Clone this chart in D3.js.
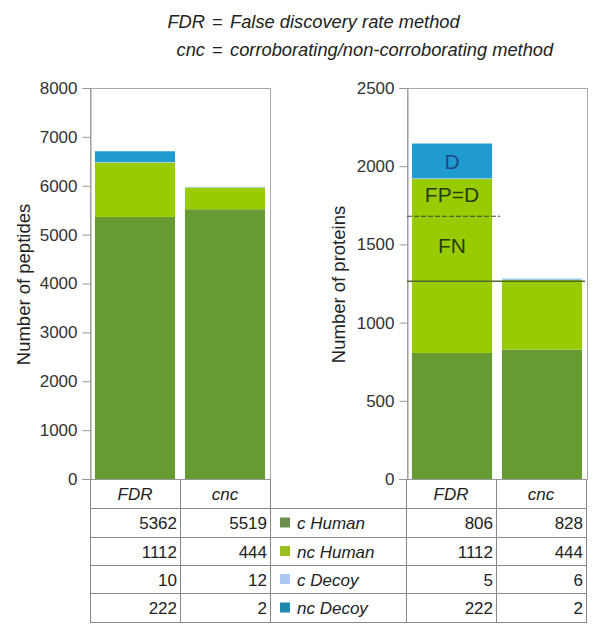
<!DOCTYPE html>
<html><head><meta charset="utf-8">
<script src="https://cdn.jsdelivr.net/npm/d3@7"></script>
<style>
html,body{margin:0;padding:0;background:#fff;}
svg{display:block;font-family:"Liberation Sans",Arial,sans-serif;}
</style></head>
<body>
<svg id="chart" width="600" height="635"></svg>
<script>
// ---- data ----
const methods = ["FDR", "cnc"];
const seriesNames = ["c Human", "nc Human", "c Decoy", "nc Decoy"];
const peptidesFDR = [5362, 1112, 10, 222];
const peptidesCnc = [5519, 444, 12, 2];
const proteinsFDR = [806, 1112, 5, 222];
const proteinsCnc = [828, 444, 6, 2];
const peptideTicks = [0, 1000, 2000, 3000, 4000, 5000, 6000, 7000, 8000];
const proteinTicks = [0, 500, 1000, 1500, 2000, 2500];
const annotationLabels = [{text: "D", value: 2027, cls: "d"}, {text: "FP=D", value: 1822, cls: "g"}, {text: "FN", value: 1490, cls: "g"}];
const dashedLineValue = 1680;
const solidLineValue = 1265;

const barColors = ["#679a32", "#99cc00", "#aaccee", "#1f9bd0"];
const legendColors = ["#6b8f4e", "#9bbf22", "#aacbef", "#1e88aa"];

const svg = d3.select("#chart");

// title
const titleLines = [["FDR", "False discovery rate method"], ["cnc", "corroborating/non-corroborating method"]];
titleLines.forEach((t, i) => {
  const yy = 28 + i * 28;
  const g = svg.append("g").attr("font-style", "italic").attr("font-size", 18.3).attr("fill", "#222");
  g.append("text").attr("x", 205).attr("y", yy).attr("text-anchor", "end").text(t[0]);
  g.append("text").attr("x", 217).attr("y", yy).attr("text-anchor", "middle").text("=");
  g.append("text").attr("x", 230).attr("y", yy).text(t[1]);
});

const plotTop = 88, plotBottom = 479;

function panel(x0, x1, maxV, ticks, fdr, cnc, title, titleX) {
  const x = d3.scaleBand().domain(methods).range([x0, x1]).paddingInner(0.11).paddingOuter(0.055);
  const y = d3.scaleLinear().domain([0, maxV]).range([plotBottom, plotTop]);
  const g = svg.append("g");
  g.append("rect").attr("x", x0 + 0.5).attr("y", plotTop + 0.5).attr("width", x1 - x0).attr("height", plotBottom - plotTop)
    .attr("fill", "none").attr("stroke", "#aaa").attr("stroke-width", 1);
  const stacks = {FDR: fdr, cnc: cnc};
  methods.forEach(m => {
    let acc = 0;
    stacks[m].forEach((v, i) => {
      g.append("rect").attr("x", x(m)).attr("width", x.bandwidth())
        .attr("y", y(acc + v)).attr("height", y(acc) - y(acc + v)).attr("fill", barColors[i]);
      acc += v;
    });
  });
  const ax = g.append("g").attr("transform", `translate(${x0 + 0.5},0)`)
    .call(d3.axisLeft(y).tickValues(ticks).tickSize(8).tickPadding(5).tickFormat(d3.format("d")));
  ax.select(".domain").attr("stroke", "#999");
  ax.selectAll(".tick line").attr("stroke", "#999");
  ax.selectAll(".tick text").attr("fill", "#333").attr("font-size", 17).attr("font-family", "Liberation Sans, Arial, sans-serif");
  g.append("line").attr("x1", x0 - 8).attr("x2", x1).attr("y1", plotBottom + 0.5).attr("y2", plotBottom + 0.5).attr("stroke", "#999");
  g.append("text").attr("transform", `translate(${titleX},${(plotTop + plotBottom) / 2 + 1}) rotate(-90)`)
    .attr("text-anchor", "middle").attr("dominant-baseline", "central").attr("font-size", 18.5).attr("fill", "#222").text(title);
  return {x, y};
}

const left = panel(90, 270, 8000, peptideTicks, peptidesFDR, peptidesCnc, "Number of peptides", 23);
const right = panel(407, 587, 2500, proteinTicks, proteinsFDR, proteinsCnc, "Number of proteins", 338);

svg.append("line").attr("x1", 407).attr("x2", right.x("FDR") + right.x.bandwidth() + 8)
  .attr("y1", right.y(dashedLineValue)).attr("y2", right.y(dashedLineValue))
  .attr("stroke", "#444").attr("stroke-width", 1.2).attr("stroke-dasharray", "5,2");
svg.append("line").attr("x1", 407).attr("x2", right.x("cnc") + right.x.bandwidth() + 3)
  .attr("y1", right.y(solidLineValue)).attr("y2", right.y(solidLineValue))
  .attr("stroke", "#4f6a30").attr("stroke-width", 1.5);
annotationLabels.forEach(a => {
  svg.append("text").attr("x", right.x("FDR") + right.x.bandwidth() / 2).attr("y", right.y(a.value))
    .attr("text-anchor", "middle").attr("dominant-baseline", "central").attr("font-size", 21)
    .attr("fill", a.cls === "d" ? "#1c4a8a" : "#2a3d10").text(a.text);
});

// table
const rowsY = [479, 508, 537, 565, 593, 622];
const colsX = [90, 180, 270, 406, 496, 586];
const tg = svg.append("g");
const gridColor = "#888";
rowsY.slice(1).forEach(yy => tg.append("line").attr("x1", 90).attr("x2", 587).attr("y1", yy + 0.5).attr("y2", yy + 0.5).attr("stroke", gridColor));
colsX.forEach(xx => tg.append("line").attr("x1", xx + 0.5).attr("x2", xx + 0.5).attr("y1", 479).attr("y2", 623).attr("stroke", gridColor));
[[0, 1], [3, 4]].forEach(pair => {
  pair.forEach((c, k) => {
    tg.append("text").attr("x", (colsX[c] + colsX[c + 1]) / 2).attr("y", (rowsY[0] + rowsY[1]) / 2 + 1)
      .attr("text-anchor", "middle").attr("dominant-baseline", "central").attr("font-style", "italic")
      .attr("font-size", 17).attr("fill", "#222").text(methods[k]);
  });
});
const tableCols = [[peptidesFDR, 1], [peptidesCnc, 2], [proteinsFDR, 4], [proteinsCnc, 5]];
tableCols.forEach(([vals, c]) => {
  vals.forEach((v, r) => {
    tg.append("text").attr("x", colsX[c] - 3).attr("y", (rowsY[r + 1] + rowsY[r + 2]) / 2 + 1)
      .attr("text-anchor", "end").attr("dominant-baseline", "central")
      .attr("font-size", 17).attr("fill", "#222").text(v);
  });
});
seriesNames.forEach((s, r) => {
  const cy = (rowsY[r + 1] + rowsY[r + 2]) / 2;
  tg.append("rect").attr("x", 280).attr("y", cy - 5).attr("width", 10).attr("height", 10).attr("fill", legendColors[r]);
  tg.append("text").attr("x", 297).attr("y", cy + 1).attr("dominant-baseline", "central")
    .attr("font-style", "italic").attr("font-size", 17).attr("fill", "#222").text(s);
});
</script>
</body></html>
